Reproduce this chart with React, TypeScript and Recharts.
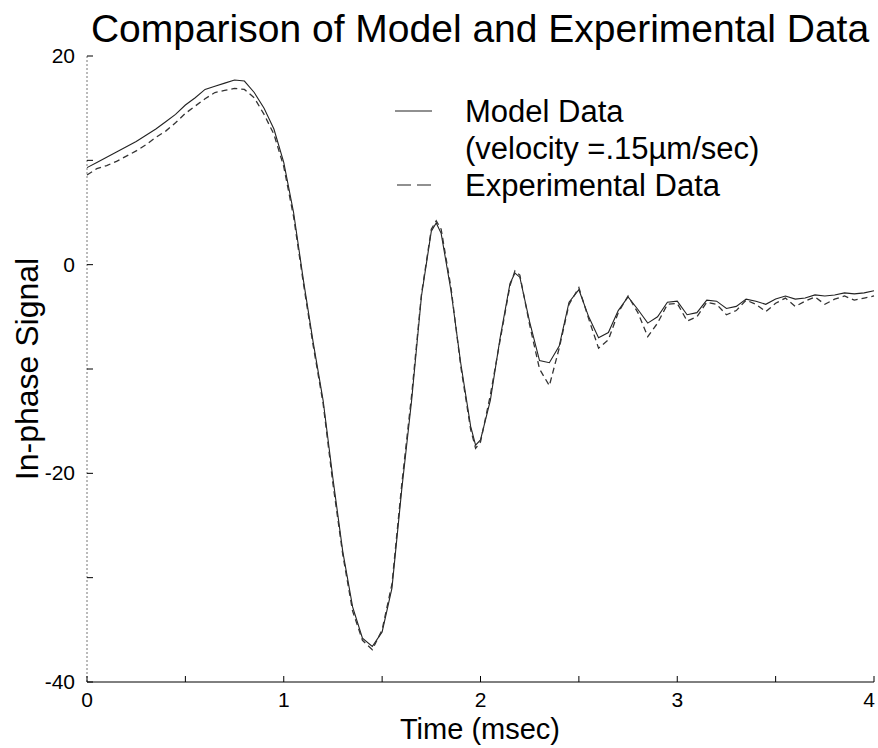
import { Legend, Line, LineChart, XAxis, YAxis } from 'recharts'

const FONT = '"Liberation Sans", Arial, Helvetica, sans-serif'

// time axis (msec)
const timeMs = [
  0, 0.05, 0.1, 0.15, 0.2, 0.25, 0.3, 0.35, 0.4, 0.45, 0.5, 0.55, 0.6, 0.65, 0.7, 0.75, 0.8, 0.85, 0.9, 0.95,
  1.0, 1.05, 1.1, 1.15, 1.2, 1.25, 1.3, 1.35, 1.4, 1.45, 1.5, 1.55, 1.6, 1.65, 1.7, 1.75, 1.775, 1.8, 1.85, 1.9,
  1.95, 1.975, 2.0, 2.05, 2.1, 2.15, 2.175, 2.2, 2.25, 2.3, 2.35, 2.4, 2.45, 2.5, 2.55, 2.6, 2.65, 2.7, 2.75, 2.8,
  2.85, 2.9, 2.95, 3.0, 3.05, 3.1, 3.15, 3.2, 3.25, 3.3, 3.35, 3.4, 3.45, 3.5, 3.55, 3.6, 3.65, 3.7, 3.75, 3.8,
  3.85, 3.9, 3.95, 4.0,
]

const modelSignal = [
  9.3, 9.8, 10.3, 10.8, 11.3, 11.8, 12.4, 13.0, 13.7, 14.4, 15.3, 16.0, 16.8, 17.1, 17.4, 17.7, 17.6, 16.5, 15.0, 13.0,
  9.8, 5.0, -1.5, -7.5, -13.0, -20.5, -27.5, -32.8, -35.8, -36.6, -35.2, -31.0, -21.5, -13.0, -3.0, 3.2, 4.0, 3.0, -2.5, -9.5,
  -15.5, -17.3, -16.8, -13.0, -7.0, -1.8, -0.8, -1.2, -5.5, -9.2, -9.4, -7.8, -3.6, -2.4, -5.0, -7.0, -6.5, -4.4, -3.1, -4.3,
  -5.6, -5.0, -3.6, -3.5, -4.8, -4.6, -3.4, -3.5, -4.2, -4.0, -3.3, -3.5, -3.8, -3.3, -3.0, -3.3, -3.2, -2.9, -3.0, -2.9,
  -2.7, -2.8, -2.7, -2.5,
]

const expSignal = [
  8.6, 9.2, 9.5, 9.9, 10.4, 10.9, 11.5, 12.2, 12.8, 13.6, 14.5, 15.2, 15.9, 16.5, 16.7, 16.9, 16.8, 16.0, 14.4, 12.5,
  9.4, 4.6, -1.8, -7.8, -13.3, -21.0, -27.8, -33.2, -36.0, -36.9, -35.0, -30.6, -21.0, -12.5, -2.8, 3.4, 4.2, 3.4, -2.2, -9.8,
  -15.8, -17.6, -17.0, -12.5, -7.2, -2.0, -0.6, -1.0, -5.8, -10.0, -11.6, -8.0, -3.8, -2.2, -5.2, -8.0, -7.2, -4.6, -3.0, -4.6,
  -6.9, -5.6, -3.8, -3.7, -5.4, -5.0, -3.6, -3.8, -4.8, -4.4, -3.4, -3.8, -4.5, -3.7, -3.2, -4.0, -3.5, -3.1, -3.8, -3.3,
  -3.0, -3.4, -3.2, -3.0,
]

const xTicks = [0, 0.5, 1, 1.5, 2, 2.5, 3, 3.5, 4]
const yTicks = [-40, -30, -20, -10, 0, 10, 20]

const rows = timeMs.map((t, i) => ({ t, model: modelSignal[i], exp: expSignal[i] }))

const BottomTick = (props: any) => {
  const { x, y, payload } = props
  const v = payload.value
  // keep the last label inside the page edge
  const lx = v === 4 ? x - 5 : x
  return (
    <g>
      <line x1={x} y1={y} x2={x} y2={y - 6} stroke="#000" />
      {Number.isInteger(v) && (
        <text x={lx} y={y + 25} textAnchor="middle" fontSize={21} fontFamily={FONT} fill="#000">
          {v}
        </text>
      )}
    </g>
  )
}

const TopTick = (props: any) => {
  const { x, y } = props
  return <line x1={x} y1={y} x2={x} y2={y + 6} stroke="#000" />
}

const LeftTick = (props: any) => {
  const { x, y, payload } = props
  const v = payload.value
  return (
    <g>
      <line x1={x} y1={y} x2={x + 6} y2={y} stroke="#000" />
      {v % 20 === 0 && (
        <text x={x - 12} y={y + 7} textAnchor="end" fontSize={21} fontFamily={FONT} fill="#000">
          {v}
        </text>
      )}
    </g>
  )
}

const RightTick = (props: any) => {
  const { x, y } = props
  return <line x1={x} y1={y} x2={x - 6} y2={y} stroke="#000" />
}

const LegendBox = () => (
  <div style={{ fontFamily: FONT, fontSize: 31, lineHeight: '37px', color: '#000' }}>
    <div style={{ display: 'flex', alignItems: 'center' }}>
      <svg width={75} height={37}>
        <line x1={5} y1={18} x2={42} y2={18} stroke="#222" strokeWidth={1.2} />
      </svg>
      <span>Model Data</span>
    </div>
    <div style={{ paddingLeft: 75 }}>(velocity =.15µm/sec)</div>
    <div style={{ display: 'flex', alignItems: 'center' }}>
      <svg width={75} height={37}>
        <line x1={7} y1={18} x2={42} y2={18} stroke="#222" strokeWidth={1.2} strokeDasharray="14 6" />
      </svg>
      <span>Experimental Data</span>
    </div>
  </div>
)

export default function App() {
  return (
    <div style={{ position: 'absolute', left: 0, top: 0, width: 878, height: 748, background: '#fff' }}>
      <LineChart width={878} height={748} data={rows} margin={{ top: 56, right: 4, bottom: 0, left: 0 }}>
        <XAxis
          dataKey="t"
          type="number"
          domain={[0, 4]}
          ticks={xTicks}
          interval={0}
          height={66}
          tickSize={0}
          tickMargin={0}
          tickLine={false}
          tick={<BottomTick />}
          axisLine={{ stroke: '#000' }}
        />
        <XAxis
          xAxisId="top"
          orientation="top"
          type="number"
          domain={[0, 4]}
          ticks={xTicks}
          interval={0}
          height={0}
          tickSize={0}
          tickMargin={0}
          tickLine={false}
          tick={<TopTick />}
          axisLine={{ stroke: '#000' }}
        />
        <YAxis
          type="number"
          domain={[-40, 20]}
          ticks={yTicks}
          interval={0}
          width={87}
          tickSize={0}
          tickMargin={0}
          tickLine={false}
          tick={<LeftTick />}
          axisLine={{ stroke: '#777', strokeDasharray: '2 2' }}
        />
        <YAxis
          yAxisId="right"
          orientation="right"
          type="number"
          domain={[-40, 20]}
          ticks={yTicks}
          interval={0}
          width={0}
          tickSize={0}
          tickMargin={0}
          tickLine={false}
          tick={<RightTick />}
          axisLine={{ stroke: '#777', strokeDasharray: '2 2' }}
        />
        <Legend
          layout="vertical"
          align="center"
          verticalAlign="middle"
          content={<LegendBox />}
          wrapperStyle={{ left: 390, top: 93, width: 440, height: 115 }}
        />
        <Line
          dataKey="model"
          type="linear"
          stroke="#222"
          strokeWidth={1.1}
          dot={false}
          isAnimationActive={false}
        />
        <Line
          dataKey="exp"
          type="linear"
          stroke="#333"
          strokeWidth={1.3}
          strokeDasharray="6 4"
          dot={false}
          isAnimationActive={false}
        />
        <text x={480} y={42} textAnchor="middle" fontSize={39} fontFamily={FONT} fill="#000">
          Comparison of Model and Experimental Data
        </text>
        <text x={480} y={739} textAnchor="middle" fontSize={29} fontFamily={FONT} fill="#000">
          Time (msec)
        </text>
        <text
          transform="translate(38,369) rotate(-90)"
          textAnchor="middle"
          fontSize={32}
          fontFamily={FONT}
          fill="#000"
        >
          In-phase Signal
        </text>
      </LineChart>
    </div>
  )
}
